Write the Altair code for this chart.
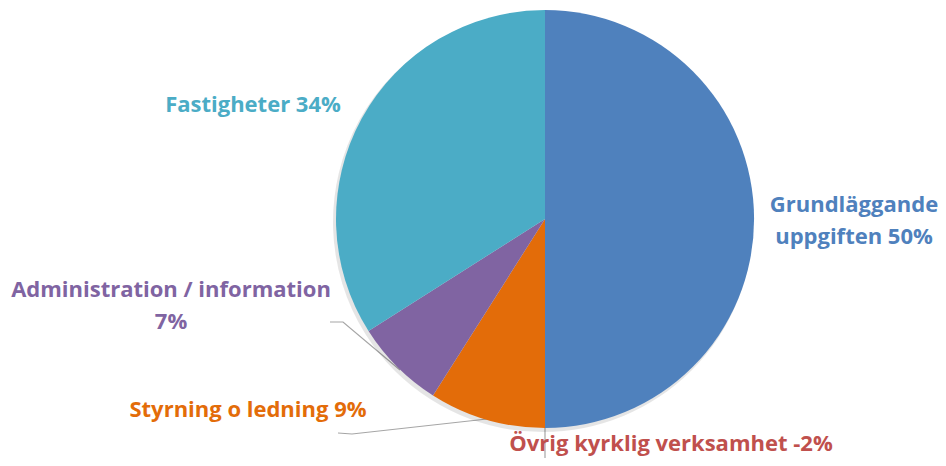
import altair as alt
import pandas as pd

categories = ["Grundläggande uppgiften", "Övrig kyrklig verksamhet", "Styrning o ledning",
              "Administration / information", "Fastigheter"]
shares = [50, 0, 9, 7, 34]
label_text = ["Grundläggande\nuppgiften 50%", "Övrig kyrklig verksamhet -2%", "Styrning o ledning 9%",
              "Administration / information\n7%", "Fastigheter 34%"]
colors = ["#4F81BD", "#C0504D", "#E36C09", "#8064A2", "#4BACC6"]
order = [0, 1, 2, 3, 4]

df = pd.DataFrame({"cat": categories, "share": shares, "label": label_text, "ord": order})

W, H = 930, 450
CX, CY = 537, 211
R = 209
FONT = "Open Sans"

color_scale = alt.Scale(domain=categories, range=colors)

base = alt.Chart(df)

shadow = base.mark_arc(outerRadius=R + 1, color="#000000", opacity=0.10).encode(
    theta=alt.Theta("share:Q", stack=True),
    order=alt.Order("ord:Q"),
    x=alt.value(CX - 2), y=alt.value(CY + 3),
)

pie = base.mark_arc(outerRadius=R, stroke=None).encode(
    theta=alt.Theta("share:Q", stack=True),
    color=alt.Color("cat:N", scale=color_scale, legend=None),
    order=alt.Order("ord:Q"),
    x=alt.value(CX), y=alt.value(CY),
)

gray = "#A6A6A6"
lines_df = pd.DataFrame({
    "x": [322, 335, 392, 330, 344, 479, 537, 537],
    "y": [314, 314, 362, 425, 426, 411, 419, 450],
    "g": ["a", "a", "a", "s", "s", "s", "o", "o"],
    "i": [0, 1, 2, 0, 1, 2, 0, 1],
})
leaders = alt.Chart(lines_df).mark_line(color=gray, strokeWidth=1.2).encode(
    x=alt.X("x:Q", scale=alt.Scale(domain=[0, W], nice=False, zero=False), axis=None),
    y=alt.Y("y:Q", scale=alt.Scale(domain=[0, H], nice=False, zero=False, reverse=True), axis=None),
    detail="g:N",
    order="i:Q",
)

pos = {
    categories[0]: (846, 197),
    categories[1]: (663, 436),
    categories[2]: (240, 402),
    categories[3]: (163, 282),
    categories[4]: (245, 97),
}

label_layers = []
for cat, col in zip(categories, colors):
    px, py = pos[cat]
    label_layers.append(
        base.transform_filter(alt.datum.cat == cat).mark_text(
            font=FONT, fontSize=22, fontWeight="bold", color=col,
            align="center", baseline="middle", lineBreak="\n", lineHeight=32,
        ).encode(text="label:N", x=alt.value(px), y=alt.value(py))
    )

chart = alt.layer(leaders, shadow, pie, *label_layers).properties(
    width=W, height=H, padding=0, autosize=alt.AutoSizeParams(type="none")
).configure(background="white", view=alt.ViewConfig(stroke=None))

chart.save("out.html", embed_options={"renderer": "svg", "actions": False})
